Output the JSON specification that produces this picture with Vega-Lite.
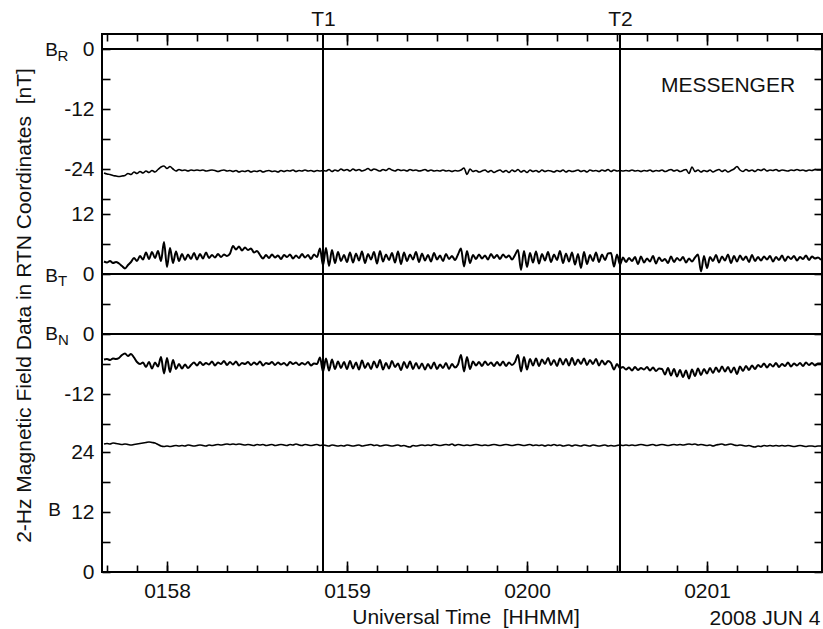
{
"$schema": "https://vega.github.io/schema/vega-lite/v6.json",
"width": 720, "height": 538,
"autosize": {"type": "none"},
"padding": {"left": 102, "top": 34, "right": 1, "bottom": 57},
"config": {
  "view": {"stroke": "#000", "strokeWidth": 2},
  "font": "Liberation Sans",
  "axis": {"labelFont": "Liberation Sans", "titleFont": "Liberation Sans", "labelColor": "#111", "titleColor": "#111", "tickColor": "#000", "tickWidth": 1.6, "grid": false, "domain": false, "titleFontWeight": "normal", "labelOverlap": false, "labelFlush": false}
},
"data": {"values": [
{"s":39,"r":-24.8,"bt":2.5,"bn":-5.1,"b":25.6},
{"s":40,"r":-25.0,"bt":2.3,"bn":-5.0,"b":25.7},
{"s":41,"r":-25.1,"bt":2.6,"bn":-5.2,"b":25.6},
{"s":42,"r":-25.3,"bt":2.2,"bn":-4.9,"b":25.8},
{"s":43,"r":-25.4,"bt":2.4,"bn":-5.0,"b":25.7},
{"s":44,"r":-25.5,"bt":2.1,"bn":-4.8,"b":25.6},
{"s":45,"r":-25.4,"bt":1.6,"bn":-4.2,"b":25.5},
{"s":46,"r":-25.3,"bt":1.1,"bn":-3.9,"b":25.6},
{"s":47,"r":-24.9,"bt":1.8,"bn":-4.4,"b":25.5},
{"s":48,"r":-25.1,"bt":2.4,"bn":-4.0,"b":25.4},
{"s":49,"r":-24.6,"bt":3.2,"bn":-4.7,"b":25.5},
{"s":50,"r":-24.9,"bt":2.6,"bn":-5.6,"b":25.6},
{"s":51,"r":-24.5,"bt":3.6,"bn":-6.0,"b":25.7},
{"s":52,"r":-24.8,"bt":2.9,"bn":-5.7,"b":25.8},
{"s":53,"r":-24.4,"bt":4.3,"bn":-6.6,"b":25.9},
{"s":54,"r":-24.7,"bt":3.0,"bn":-5.6,"b":26.0},
{"s":55,"r":-24.3,"bt":4.4,"bn":-6.9,"b":25.9},
{"s":56,"r":-24.6,"bt":3.2,"bn":-5.7,"b":25.8},
{"s":57,"r":-24.1,"bt":4.6,"bn":-6.5,"b":25.5},
{"s":58,"r":-23.6,"bt":2.6,"bn":-4.6,"b":25.2},
{"s":59,"r":-23.4,"bt":6.4,"bn":-7.9,"b":25.1},
{"s":60,"r":-23.9,"bt":1.4,"bn":-4.8,"b":25.2},
{"s":61,"r":-23.5,"bt":5.2,"bn":-7.6,"b":25.1},
{"s":62,"r":-24.0,"bt":2.2,"bn":-5.2,"b":25.2},
{"s":63,"r":-24.4,"bt":4.5,"bn":-7.0,"b":25.3},
{"s":64,"r":-24.1,"bt":2.6,"bn":-6.0,"b":25.2},
{"s":65,"r":-24.3,"bt":4.0,"bn":-6.9,"b":25.3},
{"s":66,"r":-24.2,"bt":2.8,"bn":-6.1,"b":25.2},
{"s":67,"r":-24.4,"bt":3.9,"bn":-6.8,"b":25.4},
{"s":68,"r":-24.2,"bt":3.0,"bn":-6.2,"b":25.3},
{"s":69,"r":-24.3,"bt":4.2,"bn":-5.7,"b":25.2},
{"s":70,"r":-24.2,"bt":2.9,"bn":-6.3,"b":25.3},
{"s":71,"r":-24.3,"bt":4.0,"bn":-5.6,"b":25.4},
{"s":72,"r":-24.2,"bt":3.1,"bn":-6.2,"b":25.3},
{"s":73,"r":-24.4,"bt":4.3,"bn":-5.8,"b":25.2},
{"s":74,"r":-24.3,"bt":3.2,"bn":-6.1,"b":25.4},
{"s":75,"r":-24.2,"bt":3.8,"bn":-5.5,"b":25.3},
{"s":76,"r":-24.3,"bt":3.3,"bn":-6.3,"b":25.4},
{"s":77,"r":-24.5,"bt":4.0,"bn":-5.7,"b":25.5},
{"s":78,"r":-24.3,"bt":3.4,"bn":-6.0,"b":25.4},
{"s":79,"r":-24.2,"bt":3.9,"bn":-5.4,"b":25.5},
{"s":80,"r":-24.4,"bt":3.6,"bn":-6.2,"b":25.6},
{"s":81,"r":-24.3,"bt":4.1,"bn":-5.6,"b":25.5},
{"s":82,"r":-24.5,"bt":5.6,"bn":-6.1,"b":25.6},
{"s":83,"r":-24.3,"bt":4.9,"bn":-5.5,"b":25.5},
{"s":84,"r":-24.6,"bt":5.5,"bn":-6.3,"b":25.6},
{"s":85,"r":-24.4,"bt":4.7,"bn":-5.8,"b":25.5},
{"s":86,"r":-24.5,"bt":5.3,"bn":-6.0,"b":25.4},
{"s":87,"r":-24.3,"bt":4.8,"bn":-5.6,"b":25.5},
{"s":88,"r":-24.6,"bt":5.1,"bn":-6.2,"b":25.4},
{"s":89,"r":-24.4,"bt":4.3,"bn":-5.7,"b":25.3},
{"s":90,"r":-24.5,"bt":4.6,"bn":-6.1,"b":25.5},
{"s":91,"r":-24.3,"bt":3.8,"bn":-5.5,"b":25.4},
{"s":92,"r":-24.6,"bt":3.1,"bn":-6.3,"b":25.5},
{"s":93,"r":-24.4,"bt":3.8,"bn":-5.8,"b":25.3},
{"s":94,"r":-24.3,"bt":3.2,"bn":-6.0,"b":25.4},
{"s":95,"r":-24.5,"bt":3.9,"bn":-5.6,"b":25.5},
{"s":96,"r":-24.4,"bt":3.3,"bn":-6.2,"b":25.3},
{"s":97,"r":-24.6,"bt":3.7,"bn":-5.7,"b":25.4},
{"s":98,"r":-24.3,"bt":3.0,"bn":-6.1,"b":25.5},
{"s":99,"r":-24.5,"bt":3.8,"bn":-5.8,"b":25.4},
{"s":100,"r":-24.3,"bt":3.4,"bn":-6.3,"b":25.3},
{"s":101,"r":-24.4,"bt":3.9,"bn":-5.6,"b":25.5},
{"s":102,"r":-24.2,"bt":3.1,"bn":-6.0,"b":25.4},
{"s":103,"r":-24.5,"bt":3.7,"bn":-5.7,"b":25.6},
{"s":104,"r":-24.3,"bt":3.2,"bn":-6.2,"b":25.4},
{"s":105,"r":-24.4,"bt":4.0,"bn":-5.8,"b":25.3},
{"s":106,"r":-24.2,"bt":3.3,"bn":-6.1,"b":25.5},
{"s":107,"r":-24.4,"bt":3.8,"bn":-5.6,"b":25.4},
{"s":108,"r":-24.3,"bt":3.0,"bn":-6.3,"b":25.3},
{"s":109,"r":-24.5,"bt":3.9,"bn":-5.9,"b":25.4},
{"s":110,"r":-24.3,"bt":3.4,"bn":-6.0,"b":25.5},
{"s":111,"r":-24.4,"bt":5.1,"bn":-4.7,"b":25.3},
{"s":112,"r":-24.3,"bt":1.7,"bn":-7.5,"b":25.4},
{"s":113,"r":-24.4,"bt":5.2,"bn":-4.9,"b":25.3},
{"s":114,"r":-24.1,"bt":1.6,"bn":-7.3,"b":25.2},
{"s":115,"r":-24.5,"bt":4.8,"bn":-5.1,"b":25.4},
{"s":116,"r":-24.2,"bt":2.2,"bn":-7.0,"b":25.3},
{"s":117,"r":-24.4,"bt":4.4,"bn":-5.5,"b":25.2},
{"s":118,"r":-24.0,"bt":2.6,"bn":-6.8,"b":25.3},
{"s":119,"r":-24.3,"bt":3.8,"bn":-5.6,"b":25.2},
{"s":120,"r":-24.1,"bt":2.4,"bn":-7.0,"b":25.4},
{"s":121,"r":-24.4,"bt":4.3,"bn":-5.4,"b":25.3},
{"s":122,"r":-24.0,"bt":2.3,"bn":-6.9,"b":25.2},
{"s":123,"r":-24.3,"bt":4.1,"bn":-5.7,"b":25.3},
{"s":124,"r":-24.1,"bt":2.7,"bn":-7.1,"b":25.4},
{"s":125,"r":-24.4,"bt":4.5,"bn":-5.3,"b":25.2},
{"s":126,"r":-24.2,"bt":2.2,"bn":-6.8,"b":25.3},
{"s":127,"r":-23.9,"bt":4.0,"bn":-5.8,"b":25.4},
{"s":128,"r":-24.3,"bt":2.9,"bn":-7.0,"b":25.5},
{"s":129,"r":-24.0,"bt":4.4,"bn":-5.5,"b":25.3},
{"s":130,"r":-24.2,"bt":2.1,"bn":-6.7,"b":25.4},
{"s":131,"r":-24.4,"bt":4.6,"bn":-5.2,"b":25.2},
{"s":132,"r":-24.1,"bt":2.5,"bn":-7.1,"b":25.3},
{"s":133,"r":-24.3,"bt":3.9,"bn":-5.8,"b":25.4},
{"s":134,"r":-23.9,"bt":2.8,"bn":-6.9,"b":25.3},
{"s":135,"r":-24.2,"bt":4.2,"bn":-5.4,"b":25.2},
{"s":136,"r":-24.4,"bt":2.3,"bn":-6.6,"b":25.3},
{"s":137,"r":-24.1,"bt":4.5,"bn":-5.9,"b":25.4},
{"s":138,"r":-24.3,"bt":2.0,"bn":-7.2,"b":25.2},
{"s":139,"r":-24.2,"bt":4.3,"bn":-5.6,"b":25.3},
{"s":140,"r":-24.4,"bt":2.6,"bn":-6.8,"b":25.1},
{"s":141,"r":-24.1,"bt":3.9,"bn":-5.5,"b":25.0},
{"s":142,"r":-24.3,"bt":2.9,"bn":-7.0,"b":25.3},
{"s":143,"r":-24.2,"bt":4.4,"bn":-5.8,"b":25.2},
{"s":144,"r":-24.4,"bt":2.4,"bn":-6.9,"b":25.3},
{"s":145,"r":-24.3,"bt":4.1,"bn":-5.9,"b":25.4},
{"s":146,"r":-24.1,"bt":2.7,"bn":-7.1,"b":25.3},
{"s":147,"r":-24.4,"bt":3.8,"bn":-6.0,"b":25.4},
{"s":148,"r":-24.2,"bt":2.5,"bn":-6.9,"b":25.3},
{"s":149,"r":-24.4,"bt":4.2,"bn":-5.7,"b":25.5},
{"s":150,"r":-24.3,"bt":2.9,"bn":-7.0,"b":25.4},
{"s":151,"r":-24.4,"bt":3.7,"bn":-6.1,"b":25.3},
{"s":152,"r":-24.2,"bt":2.6,"bn":-6.8,"b":25.4},
{"s":153,"r":-24.4,"bt":4.0,"bn":-5.8,"b":25.5},
{"s":154,"r":-24.3,"bt":3.0,"bn":-7.0,"b":25.4},
{"s":155,"r":-24.5,"bt":3.6,"bn":-6.0,"b":25.6},
{"s":156,"r":-24.3,"bt":2.8,"bn":-6.7,"b":25.3},
{"s":157,"r":-24.4,"bt":3.9,"bn":-6.1,"b":25.5},
{"s":158,"r":-24.2,"bt":5.1,"bn":-4.2,"b":25.4},
{"s":159,"r":-23.8,"bt":1.5,"bn":-7.5,"b":25.3},
{"s":160,"r":-25.1,"bt":4.6,"bn":-4.6,"b":25.4},
{"s":161,"r":-24.0,"bt":2.2,"bn":-7.0,"b":25.3},
{"s":162,"r":-24.5,"bt":3.8,"bn":-5.5,"b":25.4},
{"s":163,"r":-24.3,"bt":3.0,"bn":-6.3,"b":25.5},
{"s":164,"r":-24.6,"bt":3.9,"bn":-5.6,"b":25.4},
{"s":165,"r":-24.4,"bt":3.1,"bn":-6.4,"b":25.3},
{"s":166,"r":-24.2,"bt":3.7,"bn":-5.5,"b":25.4},
{"s":167,"r":-24.6,"bt":2.9,"bn":-6.2,"b":25.3},
{"s":168,"r":-24.3,"bt":4.0,"bn":-5.7,"b":25.4},
{"s":169,"r":-24.7,"bt":3.2,"bn":-6.4,"b":25.5},
{"s":170,"r":-24.4,"bt":3.8,"bn":-5.6,"b":25.4},
{"s":171,"r":-24.2,"bt":3.0,"bn":-6.3,"b":25.3},
{"s":172,"r":-24.6,"bt":3.9,"bn":-5.5,"b":25.4},
{"s":173,"r":-24.3,"bt":3.3,"bn":-6.4,"b":25.5},
{"s":174,"r":-24.7,"bt":3.7,"bn":-5.7,"b":25.4},
{"s":175,"r":-24.2,"bt":2.9,"bn":-6.2,"b":25.3},
{"s":176,"r":-24.5,"bt":3.8,"bn":-5.6,"b":25.4},
{"s":177,"r":-24.1,"bt":4.8,"bn":-4.2,"b":25.5},
{"s":178,"r":-24.6,"bt":0.8,"bn":-7.5,"b":25.4},
{"s":179,"r":-24.3,"bt":4.6,"bn":-4.6,"b":25.3},
{"s":180,"r":-24.7,"bt":1.4,"bn":-7.1,"b":25.4},
{"s":181,"r":-24.2,"bt":4.2,"bn":-5.0,"b":25.5},
{"s":182,"r":-24.5,"bt":2.3,"bn":-6.3,"b":25.3},
{"s":183,"r":-24.3,"bt":4.5,"bn":-4.9,"b":25.4},
{"s":184,"r":-24.6,"bt":2.1,"bn":-6.4,"b":25.3},
{"s":185,"r":-24.2,"bt":4.0,"bn":-5.1,"b":25.4},
{"s":186,"r":-24.5,"bt":2.7,"bn":-6.0,"b":25.2},
{"s":187,"r":-24.3,"bt":4.4,"bn":-4.8,"b":25.4},
{"s":188,"r":-24.4,"bt":2.4,"bn":-6.2,"b":25.3},
{"s":189,"r":-24.6,"bt":3.9,"bn":-5.2,"b":25.5},
{"s":190,"r":-24.3,"bt":2.8,"bn":-6.4,"b":25.3},
{"s":191,"r":-24.5,"bt":4.6,"bn":-4.9,"b":25.4},
{"s":192,"r":-24.2,"bt":2.2,"bn":-6.1,"b":25.2},
{"s":193,"r":-24.6,"bt":4.1,"bn":-5.0,"b":25.3},
{"s":194,"r":-24.3,"bt":2.5,"bn":-6.3,"b":25.4},
{"s":195,"r":-24.5,"bt":4.3,"bn":-4.8,"b":25.2},
{"s":196,"r":-24.4,"bt":1.9,"bn":-6.2,"b":25.4},
{"s":197,"r":-24.2,"bt":4.0,"bn":-5.1,"b":25.3},
{"s":198,"r":-24.5,"bt":1.2,"bn":-6.0,"b":25.2},
{"s":199,"r":-24.3,"bt":4.4,"bn":-4.9,"b":25.4},
{"s":200,"r":-24.6,"bt":2.0,"bn":-6.2,"b":25.3},
{"s":201,"r":-24.2,"bt":3.8,"bn":-5.2,"b":25.2},
{"s":202,"r":-24.4,"bt":2.6,"bn":-6.0,"b":25.4},
{"s":203,"r":-24.3,"bt":4.3,"bn":-5.0,"b":25.3},
{"s":204,"r":-24.5,"bt":2.4,"bn":-6.3,"b":25.2},
{"s":205,"r":-24.2,"bt":3.9,"bn":-5.3,"b":25.3},
{"s":206,"r":-24.4,"bt":2.8,"bn":-6.1,"b":25.4},
{"s":207,"r":-24.1,"bt":4.1,"bn":-5.4,"b":25.2},
{"s":208,"r":-24.5,"bt":4.2,"bn":-5.8,"b":25.3},
{"s":209,"r":-24.2,"bt":1.5,"bn":-7.1,"b":25.2},
{"s":210,"r":-24.4,"bt":3.9,"bn":-6.0,"b":25.3},
{"s":211,"r":-24.3,"bt":1.9,"bn":-6.8,"b":25.4},
{"s":212,"r":-24.4,"bt":3.3,"bn":-6.6,"b":25.3},
{"s":213,"r":-24.3,"bt":2.4,"bn":-7.1,"b":25.4},
{"s":214,"r":-24.4,"bt":3.2,"bn":-6.7,"b":25.3},
{"s":215,"r":-24.2,"bt":2.6,"bn":-7.3,"b":25.4},
{"s":216,"r":-24.4,"bt":3.4,"bn":-6.6,"b":25.3},
{"s":217,"r":-24.3,"bt":2.0,"bn":-7.2,"b":25.4},
{"s":218,"r":-24.5,"bt":3.5,"bn":-6.8,"b":25.5},
{"s":219,"r":-24.3,"bt":2.3,"bn":-7.1,"b":25.4},
{"s":220,"r":-24.4,"bt":3.1,"bn":-6.6,"b":25.3},
{"s":221,"r":-24.2,"bt":2.5,"bn":-7.3,"b":25.4},
{"s":222,"r":-24.5,"bt":3.6,"bn":-6.7,"b":25.5},
{"s":223,"r":-24.3,"bt":2.1,"bn":-7.4,"b":25.3},
{"s":224,"r":-24.4,"bt":3.3,"bn":-6.9,"b":25.4},
{"s":225,"r":-24.2,"bt":2.6,"bn":-7.0,"b":25.5},
{"s":226,"r":-24.5,"bt":3.0,"bn":-8.1,"b":25.4},
{"s":227,"r":-24.3,"bt":2.2,"bn":-6.8,"b":25.3},
{"s":228,"r":-24.1,"bt":3.5,"bn":-8.3,"b":25.4},
{"s":229,"r":-24.4,"bt":2.4,"bn":-7.0,"b":25.5},
{"s":230,"r":-24.2,"bt":3.2,"bn":-8.5,"b":25.4},
{"s":231,"r":-24.5,"bt":2.7,"bn":-7.2,"b":25.5},
{"s":232,"r":-24.3,"bt":3.4,"bn":-8.6,"b":25.4},
{"s":233,"r":-24.1,"bt":2.3,"bn":-7.3,"b":25.5},
{"s":234,"r":-24.9,"bt":3.1,"bn":-8.9,"b":25.6},
{"s":235,"r":-23.6,"bt":2.5,"bn":-7.1,"b":25.5},
{"s":236,"r":-24.5,"bt":3.3,"bn":-8.4,"b":25.6},
{"s":237,"r":-24.2,"bt":3.9,"bn":-6.9,"b":25.4},
{"s":238,"r":-24.6,"bt":0.5,"bn":-8.2,"b":25.5},
{"s":239,"r":-24.3,"bt":3.6,"bn":-7.0,"b":25.4},
{"s":240,"r":-24.5,"bt":1.2,"bn":-7.9,"b":25.3},
{"s":241,"r":-24.2,"bt":3.4,"bn":-6.8,"b":25.4},
{"s":242,"r":-24.6,"bt":2.6,"bn":-7.8,"b":25.2},
{"s":243,"r":-24.3,"bt":3.8,"bn":-6.7,"b":25.4},
{"s":244,"r":-24.1,"bt":2.3,"bn":-7.6,"b":25.5},
{"s":245,"r":-24.5,"bt":3.5,"bn":-6.5,"b":25.6},
{"s":246,"r":-24.2,"bt":2.7,"bn":-7.5,"b":25.4},
{"s":247,"r":-24.6,"bt":3.9,"bn":-6.6,"b":25.5},
{"s":248,"r":-24.3,"bt":2.2,"bn":-7.7,"b":25.6},
{"s":249,"r":-24.0,"bt":3.6,"bn":-6.7,"b":25.4},
{"s":250,"r":-23.5,"bt":2.5,"bn":-8.0,"b":25.3},
{"s":251,"r":-24.2,"bt":3.7,"bn":-6.5,"b":25.4},
{"s":252,"r":-24.5,"bt":2.8,"bn":-7.4,"b":25.3},
{"s":253,"r":-24.1,"bt":3.5,"bn":-6.4,"b":25.2},
{"s":254,"r":-24.4,"bt":2.4,"bn":-7.2,"b":25.3},
{"s":255,"r":-24.2,"bt":3.8,"bn":-6.3,"b":25.1},
{"s":256,"r":-24.5,"bt":2.6,"bn":-7.0,"b":25.0},
{"s":257,"r":-24.1,"bt":3.4,"bn":-6.2,"b":25.2},
{"s":258,"r":-24.3,"bt":2.7,"bn":-6.6,"b":25.1},
{"s":259,"r":-24.0,"bt":3.5,"bn":-5.9,"b":25.3},
{"s":260,"r":-24.4,"bt":2.9,"bn":-6.7,"b":25.2},
{"s":261,"r":-24.2,"bt":3.6,"bn":-6.0,"b":25.3},
{"s":262,"r":-24.3,"bt":2.5,"bn":-6.5,"b":25.2},
{"s":263,"r":-24.1,"bt":3.4,"bn":-5.8,"b":25.3},
{"s":264,"r":-24.4,"bt":2.8,"bn":-6.6,"b":25.2},
{"s":265,"r":-24.2,"bt":3.7,"bn":-6.0,"b":25.3},
{"s":266,"r":-24.3,"bt":2.6,"bn":-6.4,"b":25.2},
{"s":267,"r":-24.4,"bt":3.5,"bn":-5.7,"b":25.3},
{"s":268,"r":-24.2,"bt":3.0,"bn":-6.5,"b":25.2},
{"s":269,"r":-24.3,"bt":3.6,"bn":-5.9,"b":25.1},
{"s":270,"r":-24.1,"bt":2.7,"bn":-6.3,"b":25.2},
{"s":271,"r":-24.3,"bt":3.4,"bn":-5.8,"b":25.3},
{"s":272,"r":-24.2,"bt":3.0,"bn":-6.4,"b":25.2},
{"s":273,"r":-24.4,"bt":3.7,"bn":-5.7,"b":25.1},
{"s":274,"r":-24.2,"bt":2.8,"bn":-6.2,"b":25.2},
{"s":275,"r":-24.3,"bt":3.5,"bn":-5.8,"b":25.2},
{"s":276,"r":-24.1,"bt":3.1,"bn":-6.3,"b":25.1},
{"s":277,"r":-24.2,"bt":3.3,"bn":-5.9,"b":25.2},
{"s":278,"r":-24.2,"bt":2.8,"bn":-5.9,"b":25.2}
]},
"resolve": {"scale": {"y": "independent"}, "axis": {"x": "independent", "y": "independent"}},
"layer": [
{
 "mark": {"type": "line", "color": "#000", "strokeWidth": 1.6, "interpolate": "monotone"},
 "encoding": {
  "x": {"field": "s", "type": "quantitative", "scale": {"domain": [38.333, 278.333], "nice": false, "zero": false},
        "axis": {"orient": "top", "labels": false, "title": null, "values": [40,50,60,70,80,90,100,110,120,130,140,150,160,170,180,190,200,210,220,230,240,250,260,270], "tickSize": -7}},
  "y": {"field": "r", "type": "quantitative", "scale": {"domain": [-104.6, 3], "nice": false, "zero": false},
        "axis": {"orient": "left", "values": [0,-6,-12,-18,-24,-30], "labelExpr": "datum.value % 12 === 0 ? '' + datum.value : ''",
                 "tickSize": -8, "labelPadding": 16, "labelFontSize": 21,
                 "title": "B", "titleX": -51, "titleY": 21, "titleAngle": 0, "titleAlign": "center", "titleBaseline": "alphabetic", "titleFontSize": 19}}
 }
},
{
 "data": {"values": [{"z": 0}]},
 "mark": {"type": "rule", "color": "#000", "strokeWidth": 2},
 "encoding": {
  "y": {"field": "z", "type": "quantitative", "scale": {"domain": [-104.6, 3], "nice": false, "zero": false},
        "axis": {"orient": "right", "values": [0,-6,-12,-18,-24,-30], "labels": false, "tickSize": -8,
                 "title": "R", "titleX": -759.5, "titleY": 26, "titleAngle": 0, "titleAlign": "center", "titleBaseline": "alphabetic", "titleFontSize": 15}}
 }
},
{
 "mark": {"type": "line", "color": "#000", "strokeWidth": 2, "interpolate": "monotone"},
 "encoding": {
  "x": {"field": "s", "type": "quantitative",
        "axis": {"orient": "top", "labels": false, "title": null, "tickSize": -11, "values": [60,120,180,240]}},
  "y": {"field": "bt", "type": "quantitative", "scale": {"domain": [-59.6, 48], "nice": false, "zero": false},
        "axis": {"orient": "left", "values": [12,6,0,-6], "labelExpr": "datum.value % 12 === 0 ? '' + datum.value : ''",
                 "tickSize": -8, "labelPadding": 16, "labelFontSize": 21,
                 "title": "B", "titleX": -51, "titleY": 247.7, "titleAngle": 0, "titleAlign": "center", "titleBaseline": "alphabetic", "titleFontSize": 19}}
 }
},
{
 "data": {"values": [{"z": 0}]},
 "mark": {"type": "rule", "color": "#000", "strokeWidth": 2},
 "encoding": {
  "y": {"field": "z", "type": "quantitative", "scale": {"domain": [-59.6, 48], "nice": false, "zero": false},
        "axis": {"orient": "right", "values": [12,6,0,-6], "labels": false, "tickSize": -8,
                 "title": "T", "titleX": -760, "titleY": 251.7, "titleAngle": 0, "titleAlign": "center", "titleBaseline": "alphabetic", "titleFontSize": 15}}
 }
},
{
 "mark": {"type": "line", "color": "#000", "strokeWidth": 2, "interpolate": "monotone"},
 "encoding": {
  "x": {"field": "s", "type": "quantitative",
        "axis": {"orient": "bottom", "title": null, "tickSize": -11, "values": [60,120,180,240],
                 "labelExpr": "datum.value === 60 ? '0158' : datum.value === 120 ? '0159' : datum.value === 180 ? '0200' : '0201'",
                 "labelFontSize": 21, "labelBaseline": "alphabetic", "labelPadding": 36}},
  "y": {"field": "bn", "type": "quantitative", "scale": {"domain": [-47.6, 60], "nice": false, "zero": false},
        "axis": {"orient": "left", "values": [0,-6,-12,-18], "labelExpr": "datum.value % 12 === 0 ? '' + datum.value : ''",
                 "tickSize": -8, "labelPadding": 16, "labelFontSize": 21,
                 "title": "B", "titleX": -51, "titleY": 305, "titleAngle": 0, "titleAlign": "center", "titleBaseline": "alphabetic", "titleFontSize": 19}}
 }
},
{
 "data": {"values": [{"z": 0}]},
 "mark": {"type": "rule", "color": "#000", "strokeWidth": 2},
 "encoding": {
  "y": {"field": "z", "type": "quantitative", "scale": {"domain": [-47.6, 60], "nice": false, "zero": false},
        "axis": {"orient": "right", "values": [0,-6,-12,-18], "labels": false, "tickSize": -8,
                 "title": "N", "titleX": -759.2, "titleY": 310, "titleAngle": 0, "titleAlign": "center", "titleBaseline": "alphabetic", "titleFontSize": 15}}
 }
},
{
 "mark": {"type": "line", "color": "#000", "strokeWidth": 1.6, "interpolate": "monotone"},
 "encoding": {
  "x": {"field": "s", "type": "quantitative",
        "axis": {"orient": "bottom", "labels": false, "values": [40,50,60,70,80,90,100,110,120,130,140,150,160,170,180,190,200,210,220,230,240,250,260,270], "tickSize": -7,
                 "title": "Universal Time\u00a0 [HHMM]", "titleX": 363.5, "titleY": 51, "titleAlign": "center", "titleBaseline": "alphabetic", "titleFontSize": 21}},
  "y": {"field": "b", "type": "quantitative", "scale": {"domain": [0, 107.6], "nice": false, "zero": false},
        "axis": {"orient": "left", "values": [24,18,12,6,0], "labelExpr": "datum.value % 12 === 0 ? '' + datum.value : ''",
                 "tickSize": -8, "labelPadding": 16, "labelFontSize": 21,
                 "title": "B", "titleX": -48, "titleY": 481, "titleAngle": 0, "titleAlign": "center", "titleBaseline": "alphabetic", "titleFontSize": 19}}
 }
},
{
 "data": {"values": [{"z": 0}]},
 "mark": {"type": "rule", "color": "#000", "strokeWidth": 2},
 "encoding": {
  "y": {"field": "z", "type": "quantitative", "scale": {"domain": [0, 107.6], "nice": false, "zero": false},
        "axis": {"orient": "right", "values": [24,18,12,6,0], "labels": false, "tickSize": -8,
                 "title": "2-Hz Magnetic Field Data in RTN Coordinates\u00a0 [nT]", "titleX": -792, "titleY": 271, "titleAngle": -90, "titleAlign": "center", "titleBaseline": "alphabetic", "titleFontSize": 21}}
 }
},
{
 "data": {"values": [{"s": 112, "event": "T1"}, {"s": 211, "event": "T2"}]},
 "mark": {"type": "rule", "color": "#000", "strokeWidth": 2},
 "encoding": {
  "x": {"field": "s", "type": "quantitative",
        "axis": {"orient": "top", "ticks": false, "values": [112, 211],
                 "labelExpr": "datum.value === 112 ? 'T1' : 'T2'", "labelFontSize": 21, "labelBaseline": "alphabetic", "labelPadding": 9,
                 "title": "2008 JUN 4", "titleX": 718, "titleY": 590, "titleAlign": "right", "titleBaseline": "alphabetic", "titleFontSize": 21}}
 }
},
{
 "data": {"values": [{"s": 247, "y": -8.6, "label": "MESSENGER"}]},
 "mark": {"type": "text", "fontSize": 21, "align": "center", "baseline": "alphabetic", "color": "#111", "font": "Liberation Sans"},
 "encoding": {
  "text": {"field": "label"},
  "x": {"field": "s", "type": "quantitative", "axis": null},
  "y": {"field": "y", "type": "quantitative", "scale": {"domain": [-104.6, 3], "nice": false, "zero": false}, "axis": null}
 }
}
]
}
